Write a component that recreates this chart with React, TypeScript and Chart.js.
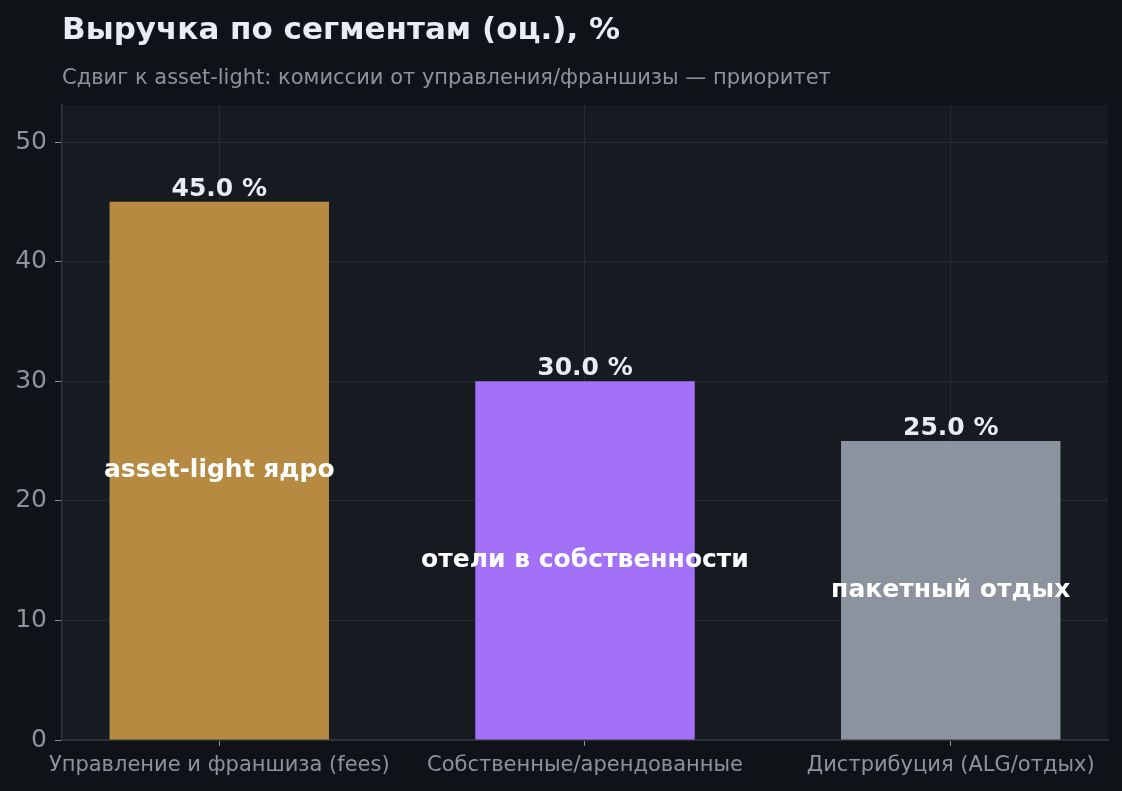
import React, { useEffect, useRef } from "react";
import { Chart, registerables } from "chart.js";

Chart.register(...registerables);

const segments = ["Управление и франшиза (fees)", "Собственные/арендованные", "Дистрибуция (ALG/отдых)"];
const shares = [45.0, 30.0, 25.0];
const innerLabels = ["asset-light ядро", "отели в собственности", "пакетный отдых"];
const barColors = ["#b78a42", "#a371f7", "#8b949e"];
const yTicks = [0, 10, 20, 30, 40, 50];

const TITLE = "Выручка по сегментам (оц.), %";
const SUBTITLE = "Сдвиг к asset-light: комиссии от управления/франшизы — приоритет";

const FONT = "DejaVu Sans";

const App: React.FC = () => {
  const canvasRef = useRef<HTMLCanvasElement | null>(null);

  useEffect(() => {
    document.body.style.margin = "0";
    document.body.style.background = "#0f1317";
    if (!canvasRef.current) return;
    const ctx = canvasRef.current.getContext("2d");
    if (!ctx) return;

    const decor = {
      id: "decor",
      beforeDraw(chart: any) {
        const c = chart.ctx;
        const a = chart.chartArea;
        c.save();
        c.fillStyle = "#0f1317";
        c.fillRect(0, 0, chart.width, chart.height);
        c.fillStyle = "#161a21";
        c.fillRect(a.left, a.top, a.right - a.left, a.bottom - a.top);
        c.textAlign = "left";
        c.textBaseline = "alphabetic";
        c.fillStyle = "#e6edf3";
        c.font = `bold 31px ${FONT}`;
        c.fillText(TITLE, 62, 39);
        c.fillStyle = "#8b949e";
        c.font = `21px ${FONT}`;
        c.fillText(SUBTITLE, 62, 84);
        c.restore();
      },
      afterDatasetsDraw(chart: any) {
        const c = chart.ctx;
        const meta = chart.getDatasetMeta(0);
        const ys = chart.scales.y;
        c.save();
        c.textAlign = "center";
        c.font = `bold 25px ${FONT}`;
        meta.data.forEach((bar: any, i: number) => {
          c.fillStyle = "#e6edf3";
          c.textBaseline = "alphabetic";
          c.fillText(`${shares[i].toFixed(1)} %`, bar.x, bar.y - 6);
          c.fillStyle = "#ffffff";
          c.textBaseline = "middle";
          c.fillText(innerLabels[i], bar.x, ys.getPixelForValue(shares[i] / 2));
        });
        c.restore();
      },
    };

    const chart = new Chart(ctx, {
      type: "bar",
      data: {
        datasets: [
          {
            data: shares.map((v, i) => ({ x: i, y: v })),
            backgroundColor: barColors,
            borderWidth: 0,
            barPercentage: 0.6,
            categoryPercentage: 1,
          },
        ],
      },
      options: {
        responsive: false,
        animation: false,
        devicePixelRatio: 1,
        layout: { padding: { top: 105, right: 14, left: 0, bottom: 0 } },
        plugins: { legend: { display: false }, tooltip: { enabled: false }, title: { display: false } },
        scales: {
          x: {
            type: "linear",
            offset: false,
            min: -0.43,
            max: 2.43,
            afterBuildTicks: (axis: any) => {
              axis.ticks = segments.map((_, i) => ({ value: i }));
            },
            afterFit: (s: any) => {
              s.height = 51;
            },
            ticks: {
              includeBounds: false,
              autoSkip: false,
              maxRotation: 0,
              padding: 7,
              color: "#8b949e",
              font: { family: FONT, size: 21 },
              callback: (v: any) => segments[v as number] ?? "",
            },
            grid: { offset: false, color: "#252a33", lineWidth: 1, tickLength: 6, tickColor: "#8b949e" },
            border: { color: "#30363d", width: 1.5 },
          },
          y: {
            min: 0,
            max: 53.1,
            afterBuildTicks: (axis: any) => {
              axis.ticks = yTicks.map((v) => ({ value: v }));
            },
            afterFit: (s: any) => {
              s.width = 62;
            },
            ticks: {
              padding: 8,
              color: "#8b949e",
              font: { family: FONT, size: 25 },
            },
            grid: { color: "#252a33", lineWidth: 1, tickLength: 7, tickColor: "#8b949e" },
            border: { color: "#30363d", width: 1.5 },
          },
        },
      },
      plugins: [decor],
    });

    return () => {
      chart.destroy();
    };
  }, []);

  return <canvas ref={canvasRef} width={1122} height={791} style={{ display: "block" }} />;
};

export default App;
